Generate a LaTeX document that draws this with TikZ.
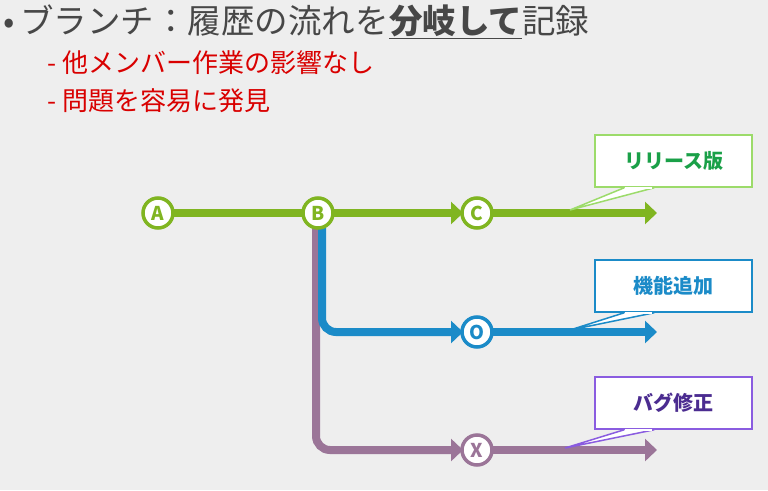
\documentclass[tikz,border=0pt]{standalone}
\usepackage{fontspec}
\setmainfont{Noto Sans CJK JP}
\usetikzlibrary{positioning,arrows.meta,calc}
\definecolor{bg}{HTML}{EEEEEE}
\definecolor{relc}{HTML}{80B521}
\definecolor{feac}{HTML}{1B8BC8}
\definecolor{bugc}{HTML}{9B7598}
\definecolor{relbox}{HTML}{9CDB6A}
\definecolor{reltxt}{HTML}{1AA048}
\definecolor{bugbox}{HTML}{8A5CE0}
\definecolor{bugtxt}{HTML}{4B2C90}
\tikzset{
  commit/.style={draw=#1, line width=3.5pt, fill=white, circle, minimum size=30pt, inner sep=0pt, text=#1, font=\fontsize{19}{19}\selectfont\bfseries},
  branch/.style={draw=#1, line width=8pt, -{Triangle[length=12pt,width=22pt]}},
  callout/.style={draw=#1, line width=1.5pt, fill=white, minimum width=157pt, minimum height=52pt, font=\fontsize{20}{20}\selectfont\bfseries},
  pointer/.style={draw=#1, line width=1.5pt, fill=white},
}
\begin{document}
\begin{tikzpicture}[x=1pt,y=-1pt]
    \fill[bg] (0,0) rectangle (768,490);
    \useasboundingbox (0,0) rectangle (768,490);

    %% Text
    \node[anchor=west, text=black!72, font=\fontsize{33.5}{33.5}\selectfont] (title) at (0,22)
      {•\,ブランチ：履歴の流れを\textbf{\underline{分岐して}}記録};
    \node[anchor=west, text=red!85!black, font=\fontsize{26}{26}\selectfont] (sub1) at (44,63) {- 他メンバー作業の影響なし};
    \node[anchor=west, text=red!85!black, font=\fontsize{26}{26}\selectfont] (sub2) at (44,101) {- 問題を容易に発見};

    %% Ends
    \coordinate (relend) at (657,213);
    \coordinate (feaend) at (657,332);
    \coordinate (bugend) at (657,450);

    %% Branches
    \draw[branch=bugc, rounded corners=14pt] (316,225) |- (463,450);
    \draw[branch=feac, rounded corners=14pt] (322,225) |- (463,332);
    \draw[relc, line width=8pt] (158,213) -- (318,213);
    \draw[branch=relc] (318,213) -- (463,213);
    \draw[branch=relc] (477,213) -- (relend);
    \draw[branch=feac] (477,332) -- (feaend);
    \draw[branch=bugc] (477,450) -- (bugend);

    %% Commits
    \node[commit=relc] (A) at (158,213) {A};
    \node[commit=relc] (B) at (318,213) {B};
    \node[commit=relc] (C) at (477,213) {C};
    \node[commit=feac] (O) at (477,332) {O};
    \node[commit=bugc] (X) at (477,450) {X};

    %% Callouts
    \node[callout=relbox, text=reltxt] (rel) at (673.5,161) {リリース版};
    \node[callout=feac, text=feac] (fea) at (673.5,286) {機能追加};
    \node[callout=bugbox, text=bugtxt] (bug) at (673.5,403) {バグ修正};
    \draw[pointer=relbox] ($(rel.south west)+(30,0)$) -- (570,210) -- ($(rel.south west)+(60,0)$);
    \draw[pointer=feac] ($(fea.south west)+(30,0)$) -- (570,330) -- ($(fea.south west)+(60,0)$);
    \draw[pointer=bugbox] ($(bug.south west)+(30,0)$) -- (565,448) -- ($(bug.south west)+(60,0)$);
    \draw[white, line width=2pt] ($(rel.south west)+(31,0)$) -- ($(rel.south west)+(58,0)$);
    \draw[white, line width=2pt] ($(fea.south west)+(31,0)$) -- ($(fea.south west)+(58,0)$);
    \draw[white, line width=2pt] ($(bug.south west)+(31,0)$) -- ($(bug.south west)+(58,0)$);
\end{tikzpicture}
\end{document}
